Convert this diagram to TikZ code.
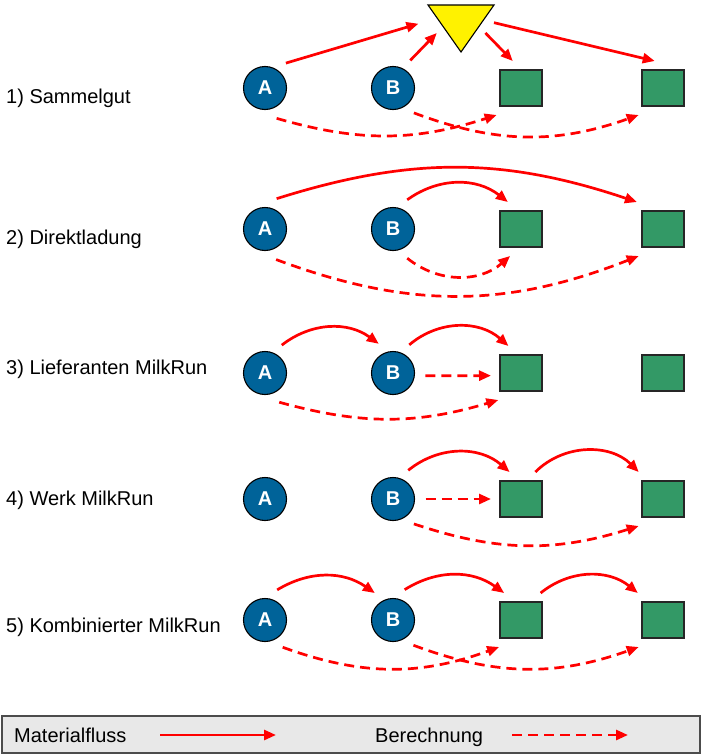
\documentclass[tikz,border=0pt]{standalone}
\usepackage{fontspec}
\setmainfont{Liberation Sans}
\usetikzlibrary{arrows.meta}

\definecolor{quellblau}{RGB}{0,99,153}
\definecolor{senkegruen}{RGB}{51,153,102}
\definecolor{legendgrau}{RGB}{232,232,232}

\tikzstyle{quelle}=[circle, draw=black, line width=1.1, fill=quellblau,
                    text=white, minimum size=43, inner sep=0, outer sep=11,
                    font=\bfseries\fontsize{20}{20}\selectfont]
\tikzstyle{senke}=[rectangle, draw=black!85, line width=1.1, fill=senkegruen,
                   minimum width=42, minimum height=36, inner sep=0, outer sep=9]
\tikzstyle{lager}=[rectangle, minimum width=66, minimum height=47,
                   inner sep=0, outer sep=0]
\tikzstyle{zeile}=[anchor=base west, inner sep=0,
                   font=\fontsize{20}{24}\selectfont]
\tikzstyle{fluss}=[-{Triangle[length=12pt, width=10pt]}, line width=2.7, draw=red]
\tikzstyle{rechnung}=[fluss, dash pattern=on 10pt off 6pt]

\begin{document}
\begin{tikzpicture}[x=1pt, y=1pt]

\useasboundingbox (0,0) rectangle (702,-755);

%%%%%%%%%%%%%%%%%%%%%%%%%%%%%%
% nodes

% 1) Sammelgut
\node (z_1) at (6,-103) [zeile] {1) Sammelgut};
\node (A_1) at (265,-88) [quelle] {A};
\node (B_1) at (393,-88) [quelle] {B};
\node (S1_1) at (521,-88) [senke] {};
\node (S2_1) at (663,-88) [senke] {};
\node (lager_1) at (461,-28.5) [lager] {};
\draw[fill=yellow, draw=black, line width=1.1]
  (lager_1.north west) -- (lager_1.north east) -- (lager_1.south) -- cycle;

% 2) Direktladung
\node (z_2) at (6,-244) [zeile] {2) Direktladung};
\node (A_2) at (265,-229) [quelle] {A};
\node (B_2) at (393,-229) [quelle] {B};
\node (S1_2) at (521,-229) [senke] {};
\node (S2_2) at (663,-229) [senke] {};

% 3) Lieferanten MilkRun
\node (z_3) at (6,-374) [zeile] {3) Lieferanten MilkRun};
\node (A_3) at (265,-373) [quelle] {A};
\node (B_3) at (393,-373) [quelle] {B};
\node (S1_3) at (521,-373) [senke] {};
\node (S2_3) at (663,-373) [senke] {};

% 4) Werk MilkRun
\node (z_4) at (6,-505) [zeile] {4) Werk MilkRun};
\node (A_4) at (265,-499) [quelle] {A};
\node (B_4) at (393,-499) [quelle] {B};
\node (S1_4) at (521,-499) [senke] {};
\node (S2_4) at (663,-499) [senke] {};

% 5) Kombinierter MilkRun
\node (z_5) at (6,-632) [zeile] {5) Kombinierter MilkRun};
\node (A_5) at (265,-620) [quelle] {A};
\node (B_5) at (393,-620) [quelle] {B};
\node (S1_5) at (521,-620) [senke] {};
\node (S2_5) at (663,-620) [senke] {};

%%%%%%%%%%%%%%%%%%%%%%%%%%%%%%
% legend

\draw[draw=black!70, fill=legendgrau, line width=1.2] (2,-716) rectangle (700,-753);
\node (leg_fluss) at (14,-742) [zeile] {Materialfluss};
\node (leg_rechnung) at (375,-742) [zeile] {Berechnung};
\coordinate (leg_fluss_a) at (160,-735);
\coordinate (leg_fluss_b) at (276,-735);
\coordinate (leg_rechnung_a) at (512,-735);
\coordinate (leg_rechnung_b) at (628,-735);
\draw[fluss] (leg_fluss_a) -- (leg_fluss_b);
\draw[rechnung] (leg_rechnung_a) -- (leg_rechnung_b);

%%%%%%%%%%%%%%%%%%%%%%%%%%%%%%
% links

% 1)
\draw[fluss, shorten >=10pt] (A_1.50) -- (lager_1.167);
\draw[fluss, shorten >=39pt] (B_1.58) -- (lager_1.83);
\draw[fluss, shorten <=39pt] (lager_1.97) -- (S1_1.107);
\draw[fluss] (lager_1.10) -- (S2_1.107);
\draw[rechnung] (A_1.291) to[bend right=17] (S1_1.228);
\draw[rechnung] (B_1.310) to[bend right=20] (S2_1.228);

% 2)
\draw[fluss] (A_2.69) to[bend left=18] (S2_2.134);
\draw[fluss] (B_2.64) to[bend left=37] (S1_2.116);
\draw[rechnung] (B_2.296) to[bend right=40] (S1_2.248);
\draw[rechnung] (A_2.290) to[bend right=21] (S2_2.228);

% 3)
\draw[fluss] (A_3.59) to[bend left=37] (B_3.116);
\draw[fluss] (B_3.60) to[bend left=41] (S1_3.115);
\draw[rechnung] (B_3.355) -- (S1_3.185);
\draw[rechnung] (A_3.296) to[bend right=16] (S1_3.230);

% 4)
\draw[fluss] (B_4.62) to[bend left=40] (S1_4.113);
\draw[fluss] (S1_4.62) to[bend left=45] (S2_4.132);
\draw[rechnung] (B_4.east) -- (S1_4.west);
\draw[rechnung] (B_4.310) to[bend right=18] (S2_4.228);

% 5)
\draw[fluss] (A_5.68) to[bend left=33] (B_5.124);
\draw[fluss] (B_5.69) to[bend left=34] (S1_5.122);
\draw[fluss] (S1_5.54) to[bend left=39] (S2_5.133);
\draw[rechnung] (A_5.303) to[bend right=20] (S1_5.231);
\draw[rechnung] (B_5.309) to[bend right=20] (S2_5.228);

\end{tikzpicture}
\end{document}
